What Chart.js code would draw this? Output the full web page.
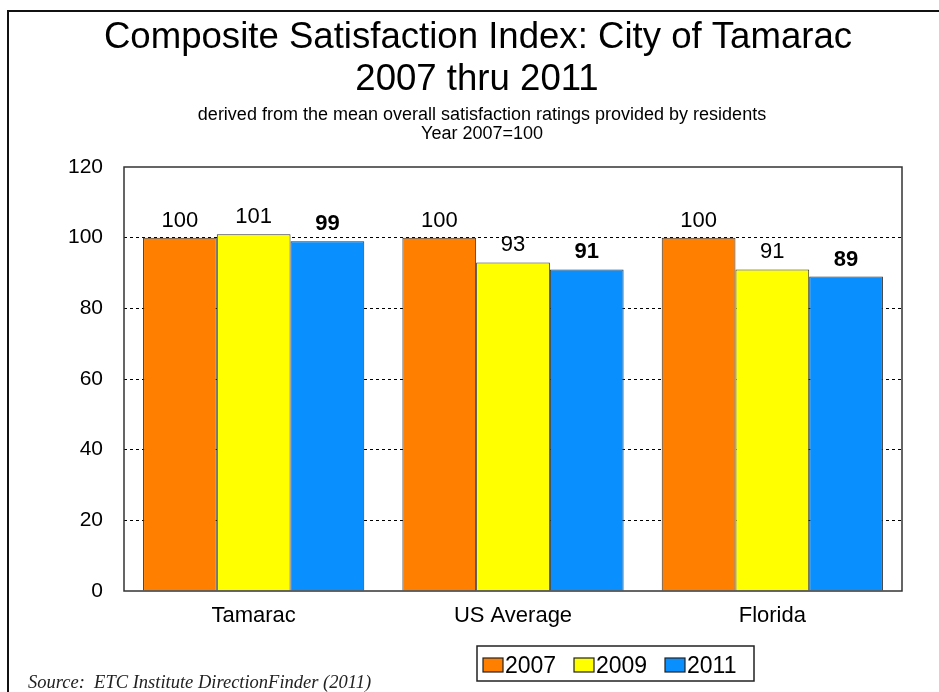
<!DOCTYPE html>
<html>
<head>
<meta charset="utf-8">
<script src="https://cdn.jsdelivr.net/npm/chart.js@4.4.0/dist/chart.umd.min.js"></script>
<style>
  html, body { margin: 0; padding: 0; background: #fff; }
  canvas { display: block; }
</style>
</head>
<body>
<canvas id="c" width="939" height="692"></canvas>
<script>
const categories = ['Tamarac', 'US Average', 'Florida'];
const seriesLabels = ['2007', '2009', '2011'];
const values2007 = [100, 100, 100];
const values2009 = [101, 93, 91];
const values2011 = [99, 91, 89];
const yTickValues = [0, 20, 40, 60, 80, 100, 120];
const titleLines = ['Composite Satisfaction Index: City of Tamarac', '2007 thru 2011'];
const subtitleLines = ['derived from the mean overall satisfaction ratings provided by residents', 'Year 2007=100'];
const sourceText = 'Source:  ETC Institute DirectionFinder (2011)';

const colors = ['#FF8000', '#FFFF00', '#0A8FFF'];
const boldLabel = [false, false, true];
const SANS = '"Liberation Sans", Arial, sans-serif';

const decorPlugin = {
  id: 'decor',
  beforeDraw(chart) {
    const ctx = chart.ctx;
    ctx.save();
    ctx.fillStyle = '#fff';
    ctx.fillRect(0, 0, chart.width, chart.height);
    // outer frame
    ctx.strokeStyle = '#111';
    ctx.lineWidth = 2;
    ctx.beginPath();
    ctx.moveTo(8, chart.height + 2);
    ctx.lineTo(8, 11);
    ctx.lineTo(chart.width + 2, 11);
    ctx.stroke();
    // title
    ctx.fillStyle = '#000';
    ctx.textAlign = 'center';
    ctx.textBaseline = 'alphabetic';
    ctx.font = '36.6px ' + SANS;
    ctx.fillText(titleLines[0], 478, 48);
    ctx.fillText(titleLines[1], 477, 90);
    ctx.font = '18px ' + SANS;
    ctx.fillText(subtitleLines[0], 482, 120);
    ctx.fillText(subtitleLines[1], 482, 139);
    // source
    ctx.textAlign = 'left';
    ctx.font = 'italic 18.5px "Liberation Serif", "Times New Roman", serif';
    ctx.fillStyle = '#222';
    ctx.fillText(sourceText, 28, 688);
    // legend
    const lx = 477, ly = 646, lw = 277, lh = 35;
    ctx.strokeStyle = '#222';
    ctx.lineWidth = 1.5;
    ctx.strokeRect(lx, ly, lw, lh);
    ctx.font = '23px ' + SANS;
    ctx.fillStyle = '#000';
    ctx.textBaseline = 'alphabetic';
    chart.data.datasets.forEach((ds, i) => {
      const sx = 483 + i * 91;
      ctx.fillStyle = ds.backgroundColor;
      ctx.fillRect(sx, 658, 20, 14);
      ctx.strokeStyle = '#222';
      ctx.lineWidth = 1.2;
      ctx.strokeRect(sx, 658, 20, 14);
      ctx.fillStyle = '#000';
      ctx.fillText(ds.label, sx + 22, 673);
    });
    ctx.restore();
  },
  afterDatasetsDraw(chart) {
    const ctx = chart.ctx;
    ctx.save();
    ctx.fillStyle = '#000';
    ctx.textAlign = 'center';
    ctx.textBaseline = 'alphabetic';
    chart.data.datasets.forEach((ds, i) => {
      const meta = chart.getDatasetMeta(i);
      ctx.font = (boldLabel[i] ? 'bold ' : '') + '22px ' + SANS;
      meta.data.forEach((bar, j) => {
        ctx.fillText(String(ds.data[j]), bar.x, bar.y - 11);
      });
    });
    ctx.restore();
  },
  afterDraw(chart) {
    const a = chart.chartArea;
    const ctx = chart.ctx;
    ctx.save();
    ctx.strokeStyle = '#333';
    ctx.lineWidth = 1.5;
    ctx.strokeRect(a.left, a.top, a.right - a.left, a.bottom - a.top);
    ctx.restore();
  }
};

const datasets = [values2007, values2009, values2011].map((vals, i) => ({
  label: seriesLabels[i],
  data: vals,
  backgroundColor: colors[i],
  borderColor: '#333',
  borderWidth: 1,
  barPercentage: 1.0,
  categoryPercentage: 0.853
}));

new Chart(document.getElementById('c'), {
  type: 'bar',
  data: { labels: categories, datasets },
  plugins: [decorPlugin],
  options: {
    responsive: false,
    animation: false,
    devicePixelRatio: 1,
    layout: { padding: { top: 167, left: 0, right: 37, bottom: 41 } },
    plugins: {
      legend: { display: false },
      title: { display: false },
      tooltip: { enabled: false }
    },
    scales: {
      x: {
        grid: { display: false, drawTicks: false },
        border: { display: false },
        ticks: { color: '#000', font: { family: SANS, size: 22 }, padding: 12 },
        afterFit(scale) { scale.height = 60; }
      },
      y: {
        min: 0,
        max: 120,
        afterBuildTicks(scale) { scale.ticks = yTickValues.map(v => ({ value: v })); },
        ticks: { color: '#000', font: { family: SANS, size: 21 }, padding: 21 },
        grid: {
          drawTicks: false,
          lineWidth: 1,
          color: (c) => (c.tick && (c.tick.value === 0 || c.tick.value === 120)) ? 'rgba(0,0,0,0)' : '#000'
        },
        border: { display: false, dash: [3, 3] },
        afterFit(scale) { scale.width = 124; }
      }
    }
  }
});
</script>
</body>
</html>
